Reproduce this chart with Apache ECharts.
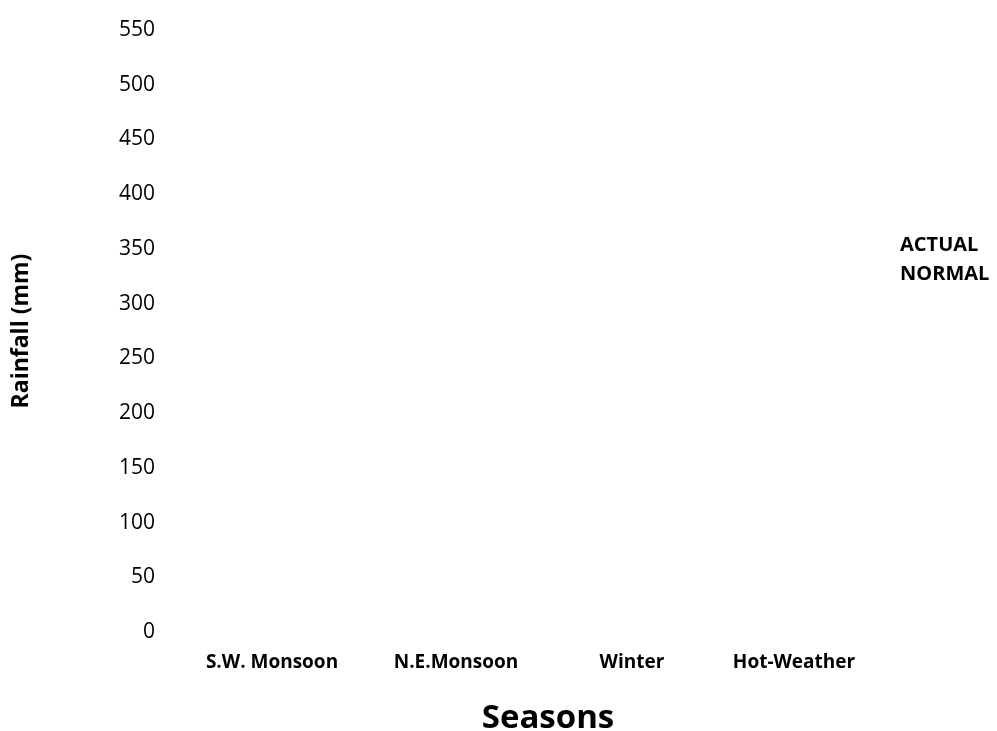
<!DOCTYPE html>
<html>
<head>
<meta charset="utf-8">
<script src="https://cdn.jsdelivr.net/npm/echarts@6/dist/echarts.min.js"></script>
<style>
html,body{margin:0;padding:0;background:#fff;}
#chart{width:997px;height:731px;}
</style>
</head>
<body>
<div id="chart"></div>
<script>
// Categories and series (no bars are visible in the reference picture)
const seasons = ['S.W. Monsoon', 'N.E.Monsoon', 'Winter', 'Hot-Weather'];
const seriesNames = ['ACTUAL', 'NORMAL'];
const actual = [null, null, null, null];
const normal = [null, null, null, null];
const yMin = 0, yMax = 550, yStep = 50;

const font = 'Open Sans';
const labelStyle = { fontFamily: font, fontWeight: 'bold', fontSize: 19, color: '#000' };
const chart = echarts.init(document.getElementById('chart'));
chart.setOption({
  backgroundColor: '#fff',
  animation: false,
  grid: { left: 185, right: 116, top: 30, bottom: 99, containLabel: false, outerBoundsMode: 'none' },
  legend: {
    data: seriesNames,
    orient: 'vertical',
    left: 890, top: 230,
    icon: 'none',
    itemWidth: 0, itemHeight: 0, itemGap: 9,
    textStyle: { fontFamily: font, fontWeight: 'bold', fontSize: 20, color: '#000' }
  },
  xAxis: {
    type: 'category',
    data: seasons,
    axisLine: { show: false }, axisTick: { show: false },
    axisLabel: {
      ...labelStyle, margin: 21, interval: 0, hideOverlap: false,
      formatter: (v, i) => ['{a|', '{b|', '{c|', '{a|'][i] + v + '}',
      rich: {
        a: { ...labelStyle },
        b: { ...labelStyle, padding: [0, 0, 0, 20] },
        c: { ...labelStyle, padding: [0, 0, 0, 24] }
      }
    },
    name: 'Seasons', nameLocation: 'middle', nameGap: 70,
    nameTextStyle: { fontFamily: font, fontWeight: 'bold', fontSize: 33, color: '#000', padding: [0, 0, 0, 30] }
  },
  yAxis: {
    type: 'value', min: yMin, max: yMax, interval: yStep,
    axisLine: { show: false }, axisTick: { show: false }, splitLine: { show: false },
    axisLabel: { fontFamily: font, fontSize: 21, color: '#000', margin: 30 },
    name: 'Rainfall (mm)', nameLocation: 'middle', nameGap: 152, nameRotate: 90,
    nameTextStyle: { fontFamily: font, fontWeight: 'bold', fontSize: 23, color: '#000' }
  },
  series: [
    { name: seriesNames[0], type: 'bar', data: actual, itemStyle: { color: '#4472c4' } },
    { name: seriesNames[1], type: 'bar', data: normal, itemStyle: { color: '#ed7d31' } }
  ]
});
</script>
</body>
</html>
